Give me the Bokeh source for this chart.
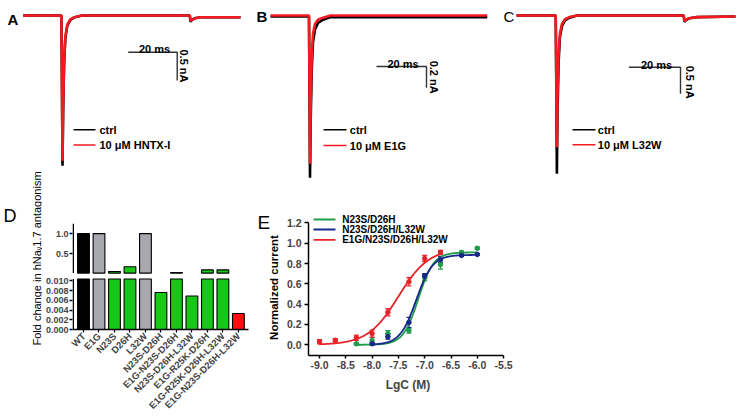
import math
import numpy as np
from bokeh.plotting import figure
from bokeh.models import (Range1d, LinearAxis, FixedTicker, Label, ColumnDataSource,
                          Whisker, TeeHead, NumeralTickFormatter)
from bokeh.layouts import row, column
from bokeh.core.properties import value
from bokeh.embed import file_html
from bokeh.resources import INLINE

FONT = "Liberation Sans"

# ---------------- data: panels A-C, current traces (time ms, current nA) ----------------
A_TIME = [0.0, 15.6, 15.85, 16.05, 16.3, 16.7, 17.2, 18.0, 19.2, 21.0, 24.0, 68.0, 68.3, 68.8, 70.0, 72.5, 88.7]
A_CTRL = [0.0, 0.0, -1.4, -2.65, -1.7, -0.85, -0.4, -0.18, -0.08, -0.03, 0.0, 0.0, -0.11, -0.08, -0.05, -0.03, -0.03]
A_TOXIN = [0.0, 0.0, -1.35, -2.56, -1.6, -0.8, -0.37, -0.16, -0.07, -0.03, 0.0, 0.0, -0.10, -0.08, -0.05, -0.03, -0.03]
A_LEGEND = ["ctrl", "10 μM HNTX-I"]
A_SCALE_NA = 0.5

B_TIME = [0.0, 15.4, 15.6, 15.8, 16.1, 16.5, 17.0, 17.8, 19.0, 21.0, 24.0, 86.7]
B_CTRL = [-0.01, -0.01, -0.75, -1.52, -0.95, -0.5, -0.25, -0.13, -0.07, -0.04, -0.015, -0.015]
B_TOXIN = [0.0, 0.0, -0.7, -1.39, -0.8, -0.38, -0.17, -0.08, -0.04, -0.02, 0.0, 0.0]
B_LEGEND = ["ctrl", "10 μM E1G"]
B_SCALE_NA = 0.2

C_TIME = [0.0, 15.2, 15.45, 15.65, 15.9, 16.3, 16.8, 17.6, 18.8, 20.5, 23.5, 64.8, 65.1, 65.6, 67.0, 70.0, 84.9]
C_CTRL = [0.0, 0.0, -1.5, -2.97, -1.8, -0.9, -0.42, -0.2, -0.09, -0.04, 0.0, 0.0, -0.12, -0.09, -0.05, -0.03, -0.02]
C_TOXIN = [0.0, 0.0, -1.25, -2.47, -1.5, -0.75, -0.35, -0.16, -0.07, -0.03, 0.0, 0.0, -0.11, -0.08, -0.05, -0.03, -0.02]
C_LEGEND = ["ctrl", "10 μM L32W"]
C_SCALE_NA = 0.5

SCALE_MS = 20

# ---------------- data: panel D ----------------
D_MUTANTS = ["WT", "E1G", "N23S", "D26H", "L32W", "N23S-D26H", "E1G-N23S-D26H",
             "N23S-D26H-L32W", "E1G-R25K-D26H", "E1G-R25K-D26H-L32W", "E1G-N23S-D26H-L32W"]
D_FOLD = [1.0, 1.0, 0.05, 0.17, 1.0, 0.0076, 0.025, 0.0069, 0.09, 0.09, 0.0033]
D_GROUP = ["wt", "weak", "strong", "strong", "weak", "strong", "strong", "strong", "strong", "strong", "best"]
D_LOWER_TICKS = [0.000, 0.002, 0.004, 0.006, 0.008, 0.010]
D_UPPER_TICKS = [0.5, 1.0]
D_BREAK = 0.01
D_YTITLE = "Fold change in hNaᵥ1.7 antagonism"

# ---------------- data: panel E ----------------
E_NAMES = ["N23S/D26H", "N23S/D26H/L32W", "E1G/N23S/D26H/L32W"]
E_GREEN_X = [-8.3, -8.0, -7.7, -7.3, -7.0, -6.7, -6.3, -6.0]
E_GREEN_Y = [0.01, 0.04, 0.11, 0.14, 0.66, 0.79, 0.91, 0.95]
E_GREEN_ERR = [0.01, 0.03, 0.03, 0.025, 0.03, 0.045, 0.01, 0.01]
E_BLUE_X = [-8.0, -7.7, -7.3, -7.0, -6.7, -6.3, -6.0]
E_BLUE_Y = [0.01, 0.08, 0.22, 0.68, 0.84, 0.88, 0.89]
E_BLUE_ERR = [0.01, 0.025, 0.05, 0.02, 0.03, 0.01, 0.01]
E_RED_X = [-9.0, -8.7, -8.3, -8.0, -7.7, -7.3, -7.0, -6.7]
E_RED_Y = [0.03, 0.045, 0.07, 0.11, 0.32, 0.62, 0.85, 0.91]
E_RED_ERR = [0.02, 0.015, 0.025, 0.035, 0.035, 0.04, 0.03, 0.02]
# Hill fits: (top, logIC50, slope, x from, x to)
E_GREEN_FIT = (0.91, -7.12, 3.0, -8.3, -6.0)
E_BLUE_FIT = (0.885, -7.16, 2.8, -8.0, -6.0)
E_RED_FIT = (0.95, -7.5, 1.5, -9.0, -6.7)
E_X_TICKS = [-9.0, -8.5, -8.0, -7.5, -7.0, -6.5, -6.0, -5.5]
E_Y_TICKS = [0.0, 0.2, 0.4, 0.6, 0.8, 1.0, 1.2]
E_XTITLE = "LgC (M)"
E_YTITLE = "Normalized current"

# ---------------- styles ----------------
TR_BLACK = "#000000"
TR_RED = "#F41A20"
BAR_COLORS = {"wt": "#000000", "weak": "#A7A7AF", "strong": "#18C818", "best": "#FF1010"}
E_GREEN, E_BLUE, E_RED = "#1E9B4B", "#17288A", "#E82328"

COMMON = dict(output_backend="svg", toolbar_location=None, frame_align=False)


def lab(p, x, y, text, size, bold=True, align="left", baseline="middle", angle=0.0):
    p.add_layout(Label(x=x, y=y, text=text, text_font=FONT, text_font_size=f"{size}px",
                       text_font_style="bold" if bold else "normal", text_align=align,
                       text_baseline=baseline, angle=angle, text_color="black"))


def gtext(p, x, y, text, size, bold=True, align="left", baseline="middle", angle=0.0):
    p.text(x=[x], y=[y], text=[text], text_font=value(FONT), text_font_size=value(f"{size}px"),
           text_font_style="bold" if bold else "normal", text_align=align,
           text_baseline=baseline, angle=angle, text_color="black")


def pixel_fig(left, top, w, h):
    # a figure whose data units are the picture's pixels (y downward -> negated)
    p = figure(width=w, height=h, x_range=Range1d(left, left + w), y_range=Range1d(-(top + h), -top),
               x_axis_location=None, y_axis_location=None, min_border=0, **COMMON)
    p.outline_line_color = None
    p.grid.visible = False
    return p


def trace_panel(left, top, w, h, x0, y0, ppx, ppy, t, ctrl, tox, legend, scale_na,
                letter, letter_xy, letter_bold, bar_corner, ms_xy, na_xy, leg_x, leg_y, leg_tx):
    xr = Range1d((left - x0) / ppx, (left + w - x0) / ppx)
    yr = Range1d((y0 - (top + h)) / ppy, (y0 - top) / ppy)
    p = figure(width=w, height=h, x_range=xr, y_range=yr, x_axis_location=None,
               y_axis_location=None, min_border=0, **COMMON)
    p.outline_line_color = None
    p.grid.visible = False

    def d(px, py):
        return (px - x0) / ppx, (y0 - py) / ppy

    p.line(t, ctrl, line_color=TR_BLACK, line_width=2.6)
    p.line(t, tox, line_color=TR_RED, line_width=2.6)
    cx, cy = d(*bar_corner)
    p.line([cx - SCALE_MS, cx, cx], [cy, cy, cy - scale_na], line_color="#333333", line_width=1.4)
    lab(p, *d(*ms_xy), f"{SCALE_MS} ms", 11, align="center", baseline="alphabetic")
    lab(p, *d(*na_xy), f"{scale_na} nA", 11, align="center", baseline="middle", angle=-math.pi / 2)
    for col, yy, txt in zip([TR_BLACK, TR_RED], leg_y, legend):
        xa, ya = d(leg_x[0], yy)
        xb, _ = d(leg_x[1], yy)
        p.line([xa, xb], [ya, ya], line_color=col, line_width=1.5)
        lab(p, *d(leg_tx, yy), txt, 11, align="left", baseline="middle")
    lab(p, *d(*letter_xy), letter, 15, bold=letter_bold, baseline="alphabetic")
    return p


pA = trace_panel(0, 0, 254, 170, 22.7, 15, 2.45, 56.7, A_TIME, A_CTRL, A_TOXIN, A_LEGEND, A_SCALE_NA,
                 "A", (7, 18.5), True, (176.7, 51.7), (154, 48.5), (183.3, 65.5),
                 (73, 95), (129.3, 144.5), 99)
pB = trace_panel(254, 0, 239, 182, 270, 15, 2.5, 106.7, B_TIME, B_CTRL, B_TOXIN, B_LEGEND, B_SCALE_NA,
                 "B", (256, 16), True, (426, 66), (402.5, 63.5), (433.3, 76.7),
                 (323, 346), (129.3, 145), 349.3)
pC = trace_panel(493, 0, 244, 182, 516, 15, 2.58, 53.3, C_TIME, C_CTRL, C_TOXIN, C_LEGEND, C_SCALE_NA,
                 "C", (503, 16), False, (680, 66.7), (656, 64), (689.7, 81.7),
                 (572, 595), (129.3, 144.3), 597.3)

# ---------------- panel D ----------------
pDt = pixel_fig(0, 170, 42, 247)
gtext(pDt, 36.5, -258, D_YTITLE, 11, bold=False, align="center", baseline="middle", angle=math.pi / 2)
gtext(pDt, 3, -215.5, "D", 18, bold=False, baseline="alphabetic")

DL, DT, DW, DH = 42, 170, 212, 247
DFL, DFT, DFR, DFB = 69, 223, 248, 332
D_X0PX, D_PITCH = 80.2, 15.75
LOW_PPU, UP_PPU = 5000.0, 41.0
UP_BASE_PX, LOW_TOP_PX = 274, 280
fh = DFB - DFT
xrD = Range1d((DFL - D_X0PX) / D_PITCH, (DFR - D_X0PX) / D_PITCH)
yrD = Range1d(0, fh / LOW_PPU)
up_start = D_BREAK - (DFB - UP_BASE_PX) / UP_PPU
urD = Range1d(up_start, up_start + fh / UP_PPU)
low_top = (DFB - LOW_TOP_PX) / LOW_PPU

pD = figure(width=DW, height=DH, x_range=xrD, y_range=yrD,
            x_axis_location=None, y_axis_location=None,
            min_border_left=DFL - DL, min_border_right=DL + DW - DFR,
            min_border_top=DFT - DT, min_border_bottom=DT + DH - DFB, **COMMON)
pD.extra_y_ranges = {"upper": urD}
pD.outline_line_color = None
pD.grid.visible = False

idx = list(range(len(D_MUTANTS)))
colors = [BAR_COLORS[g] for g in D_GROUP]
pD.vbar(x=idx, top=[min(v, low_top) for v in D_FOLD], bottom=0, width=0.76,
        fill_color=colors, line_color="black", line_width=1.1)
up_idx = [i for i, v in zip(idx, D_FOLD) if v > D_BREAK]
pD.vbar(x=up_idx, top=[D_FOLD[i] for i in up_idx], bottom=D_BREAK, width=0.76,
        fill_color=[colors[i] for i in up_idx], line_color="black", line_width=1.1,
        y_range_name="upper")
xa = (DFL + 0.75 - D_X0PX) / D_PITCH
pD.line([xa, xa], [0, low_top], line_color="black", line_width=1.5)
pD.line([xa, xa], [D_BREAK, urD.end], line_color="black", line_width=1.5, y_range_name="upper")


def conv_up(v):
    return (v - urD.start) * UP_PPU / LOW_PPU


yaxD = LinearAxis(ticker=FixedTicker(ticks=D_LOWER_TICKS + [conv_up(v) for v in D_UPPER_TICKS], minor_ticks=[]),
                  formatter=NumeralTickFormatter(format="0.000"),
                  major_label_overrides={conv_up(v): f"{v:.1f}" for v in D_UPPER_TICKS},
                  axis_line_color=None, major_tick_in=0, major_tick_out=3, major_tick_line_width=1.5,
                  minor_tick_line_color=None, major_label_standoff=1,
                  major_label_text_font=FONT, major_label_text_font_size="9px",
                  major_label_text_font_style="bold")
pD.add_layout(yaxD, "left")
xaxD = LinearAxis(ticker=FixedTicker(ticks=idx, minor_ticks=[]),
                  major_label_overrides={i: m for i, m in zip(idx, D_MUTANTS)},
                  major_label_orientation=math.pi / 4,
                  axis_line_width=1.5, major_tick_in=0, major_tick_out=3, major_tick_line_width=1.2,
                  minor_tick_line_color=None, major_label_standoff=2,
                  major_label_text_font=FONT, major_label_text_font_size="9.5px",
                  major_label_text_font_style="bold")
pD.add_layout(xaxD, "below")

# ---------------- panel E ----------------
pEt = pixel_fig(254, 182, 26, 235)
gtext(pEt, 257, -222, "E", 19, bold=False, baseline="alphabetic")
gtext(pEt, 273, -287, E_YTITLE, 11.5, bold=True, align="center", baseline="middle", angle=math.pi / 2)

EL, ET, EW, EH = 280, 182, 240, 235
EFL, EFT, EFR, EFB = 308, 208, 507, 355
E_XPPU, E_YPPU = 52.6, 101.6
E_X9PX, E_Y0PX = 319, 344.3


def ex(px):
    return -9.0 + (px - E_X9PX) / E_XPPU


def ey(py):
    return (E_Y0PX - py) / E_YPPU


xrE = Range1d(ex(EFL), ex(EFR))
yrE = Range1d(ey(EFB), ey(EFT))
pE = figure(width=EW, height=EH, x_range=xrE, y_range=yrE,
            x_axis_location=None, y_axis_location=None,
            min_border_left=EFL - EL, min_border_right=EL + EW - EFR,
            min_border_top=EFT - ET, min_border_bottom=ET + EH - EFB, **COMMON)
pE.outline_line_color = None
pE.grid.visible = False

yaxE = LinearAxis(bounds=(yrE.start, E_Y_TICKS[-1]), ticker=FixedTicker(ticks=E_Y_TICKS, minor_ticks=[]),
                  formatter=NumeralTickFormatter(format="0.0"),
                  axis_line_width=1.5, major_tick_in=0, major_tick_out=4, major_tick_line_width=1.5,
                  minor_tick_line_color=None, major_label_standoff=3,
                  major_label_text_font=FONT, major_label_text_font_size="10.5px",
                  major_label_text_font_style="bold")
pE.add_layout(yaxE, "left")
xaxE = LinearAxis(bounds=(xrE.start, E_X_TICKS[-1]), ticker=FixedTicker(ticks=E_X_TICKS, minor_ticks=[]),
                  major_label_overrides={v: f"{v:.1f}" for v in E_X_TICKS},
                  axis_label=E_XTITLE, axis_label_standoff=6,
                  axis_label_text_font=FONT, axis_label_text_font_size="12px",
                  axis_label_text_font_style="bold",
                  axis_line_width=1.5, major_tick_in=0, major_tick_out=3, major_tick_line_width=1.5,
                  minor_tick_line_color=None, major_label_standoff=2,
                  major_label_text_font=FONT, major_label_text_font_size="10.5px",
                  major_label_text_font_style="bold")
pE.add_layout(xaxE, "below")

series = [(E_GREEN_X, E_GREEN_Y, E_GREEN_ERR, E_GREEN_FIT, E_GREEN),
          (E_BLUE_X, E_BLUE_Y, E_BLUE_ERR, E_BLUE_FIT, E_BLUE),
          (E_RED_X, E_RED_Y, E_RED_ERR, E_RED_FIT, E_RED)]
for xs, ys, es, fit, col in series:
    top, lic50, hill, x1, x2 = fit
    xf = np.linspace(x1, x2, 160)
    yf = top / (1 + 10 ** ((lic50 - xf) * hill))
    pE.line(xf, yf, line_color=col, line_width=1.8)
    src = ColumnDataSource(dict(x=xs, y=ys, lo=[y - e for y, e in zip(ys, es)],
                                hi=[y + e for y, e in zip(ys, es)]))
    pE.add_layout(Whisker(source=src, base="x", upper="hi", lower="lo", line_color=col, line_width=1.3,
                          upper_head=TeeHead(size=5, line_color=col, line_width=1.3),
                          lower_head=TeeHead(size=5, line_color=col, line_width=1.3)))
    pE.scatter("x", "y", source=src, marker="circle", size=4.5, fill_color=col, line_color=col)

for name, col, py in zip(E_NAMES, [E_GREEN, E_BLUE, E_RED], [219, 229, 239.3]):
    pE.line([ex(313), ex(335)], [ey(py), ey(py)], line_color=col, line_width=1.8)
    lab(pE, ex(341.7), ey(py), name, 10, align="left", baseline="middle")

layout = row(column(pA, row(pDt, pD)), column(row(pB, pC), row(pEt, pE)))

with open("out.html", "w") as f:
    f.write(file_html(layout, INLINE))
